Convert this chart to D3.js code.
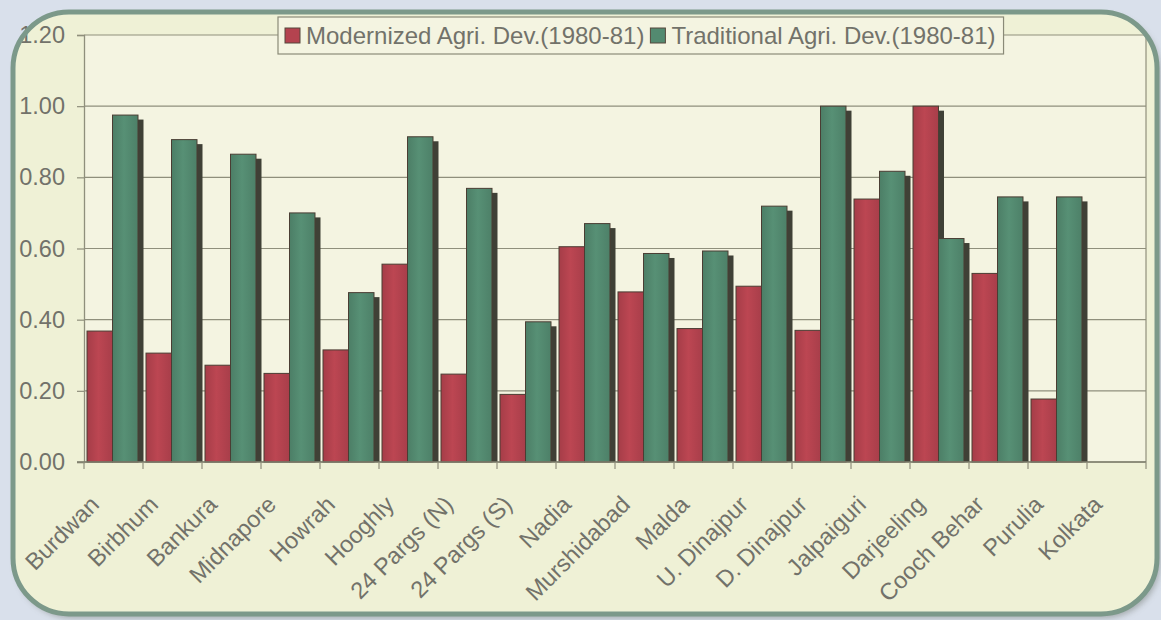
<!DOCTYPE html>
<html>
<head>
<meta charset="utf-8">
<script src="https://cdn.jsdelivr.net/npm/d3@7"></script>
<style>
  html, body { margin: 0; padding: 0; background: #d9e0eb; }
  svg { display: block; }
  text { font-family: "Liberation Sans", Arial, sans-serif; }
</style>
</head>
<body>
<svg id="chart" width="1161" height="620"></svg>
<script>
// Districts of West Bengal, agricultural development indices 1980-81
const categories = ["Burdwan", "Birbhum", "Bankura", "Midnapore", "Howrah", "Hooghly",
  "24 Pargs (N)", "24 Pargs (S)", "Nadia", "Murshidabad", "Malda", "U. Dinajpur",
  "D. Dinajpur", "Jalpaiguri", "Darjeeling", "Cooch Behar", "Purulia", "Kolkata"];
const modernized = [0.368, 0.306, 0.272, 0.249, 0.315, 0.556, 0.247, 0.19, 0.605, 0.478,
  0.375, 0.494, 0.37, 0.739, 1.0, 0.53, 0.177, null];
const traditional = [0.975, 0.906, 0.865, 0.70, 0.476, 0.914, 0.769, 0.394, 0.67, 0.586,
  0.593, 0.719, 1.0, 0.817, 0.628, 0.745, 0.745, null];
const seriesNames = ["Modernized Agri. Dev.(1980-81)", "Traditional Agri. Dev.(1980-81)"];
const yTicks = [0, 0.2, 0.4, 0.6, 0.8, 1.0, 1.2];

const svg = d3.select("#chart");
const plot = { left: 84, right: 1146, top: 35, bottom: 462 };
const textColor = "#72726a";
const gridColor = "#8f8f7c";
const barColors = ["#b4434f", "#538a70"];
const fontFamily = "'Liberation Sans', Arial, sans-serif";

const defs = svg.append("defs");
const panelShadow = defs.append("filter").attr("id", "panelShadow")
  .attr("x", "-5%").attr("y", "-5%").attr("width", "110%").attr("height", "110%");
panelShadow.append("feGaussianBlur").attr("stdDeviation", 3);

barColors.forEach((c, i) => {
  const g = defs.append("linearGradient").attr("id", "barGrad" + i)
    .attr("x1", "0").attr("x2", "1").attr("y1", "0").attr("y2", "0");
  const base = d3.color(c);
  g.append("stop").attr("offset", "0%").attr("stop-color", base.darker(0.25));
  g.append("stop").attr("offset", "45%").attr("stop-color", base.brighter(0.12));
  g.append("stop").attr("offset", "100%").attr("stop-color", base.darker(0.2));
});

// Panel with rounded frame
const panel = { x: 13, y: 12, w: 1144, h: 602, r: 56 };
svg.append("rect")
  .attr("x", panel.x + 3).attr("y", panel.y + 4).attr("width", panel.w).attr("height", panel.h)
  .attr("rx", panel.r).attr("fill", "#8a918f").attr("opacity", 0.7)
  .attr("filter", "url(#panelShadow)");
svg.append("rect")
  .attr("x", panel.x).attr("y", panel.y).attr("width", panel.w).attr("height", panel.h)
  .attr("rx", panel.r).attr("fill", "#eff1d6");

// Plot background
svg.append("rect")
  .attr("x", plot.left).attr("y", plot.top)
  .attr("width", plot.right - plot.left).attr("height", plot.bottom - plot.top)
  .attr("fill", "#f4f4e1");

const x = d3.scaleBand().domain(categories).range([plot.left, plot.right]).padding(0);
const xSub = d3.scaleBand().domain([0, 1]).range([3, 54]).padding(0);
const y = d3.scaleLinear().domain([0, 1.2]).range([plot.bottom, plot.top]);

// Horizontal gridlines
svg.append("g").selectAll("line").data(yTicks).join("line")
  .attr("x1", plot.left).attr("x2", plot.right)
  .attr("y1", d => y(d)).attr("y2", d => y(d))
  .attr("stroke", gridColor).attr("stroke-width", 1.2);

// Right plot edge
svg.append("line")
  .attr("x1", plot.right).attr("x2", plot.right)
  .attr("y1", plot.top).attr("y2", plot.bottom)
  .attr("stroke", gridColor).attr("stroke-width", 1.2);

// Y axis
const yAxis = svg.append("g").attr("transform", `translate(${plot.left},0)`)
  .call(d3.axisLeft(y).tickValues(yTicks).tickFormat(d3.format(".2f")).tickSize(7).tickPadding(12));
yAxis.select(".domain").attr("stroke", gridColor).attr("stroke-width", 1.3);
yAxis.selectAll(".tick line").attr("stroke", gridColor).attr("stroke-width", 1.2);
yAxis.selectAll(".tick text").attr("fill", textColor).attr("font-size", 23.5)
  .style("font-family", fontFamily);

// Bars
const barData = [];
categories.forEach((c, i) => {
  [modernized[i], traditional[i]].forEach((v, s) => {
    if (v != null) barData.push({ cat: c, s, v });
  });
});
const bw = xSub.bandwidth();
const shadowDx = 5.5, shadowDy = 4.5;

svg.append("g").selectAll("rect").data(barData).join("rect")
  .attr("x", d => x(d.cat) + xSub(d.s) + shadowDx)
  .attr("y", d => y(d.v) + shadowDy)
  .attr("width", bw)
  .attr("height", d => plot.bottom - y(d.v) - shadowDy)
  .attr("fill", "#3f4036");

const barsG = svg.append("g");
[0, 1].forEach(s => {
  barsG.append("g").selectAll("rect").data(barData.filter(d => d.s === s)).join("rect")
    .attr("x", d => x(d.cat) + xSub(d.s))
    .attr("y", d => y(d.v))
    .attr("width", bw)
    .attr("height", d => plot.bottom - y(d.v))
    .attr("fill", `url(#barGrad${s})`)
    .attr("stroke", "#4a3d33").attr("stroke-width", 1);
});

// X axis baseline, category boundary ticks, rotated labels
svg.append("line")
  .attr("x1", plot.left - 7).attr("x2", plot.right)
  .attr("y1", plot.bottom).attr("y2", plot.bottom)
  .attr("stroke", "#7e7e6c").attr("stroke-width", 1.4);
const bounds = categories.map(c => x(c)).concat([plot.right]);
svg.append("g").selectAll("line").data(bounds).join("line")
  .attr("x1", d => d).attr("x2", d => d)
  .attr("y1", plot.bottom).attr("y2", plot.bottom + 7)
  .attr("stroke", gridColor).attr("stroke-width", 1.2);

const xAxis = svg.append("g").attr("transform", `translate(0,${plot.bottom})`)
  .call(d3.axisBottom(x).tickSize(0).tickPadding(0));
xAxis.select(".domain").remove();
xAxis.selectAll(".tick text")
  .attr("fill", textColor).attr("font-size", 23.5)
  .style("font-family", fontFamily)
  .attr("text-anchor", "end")
  .attr("dy", 0).attr("y", 0)
  .attr("transform", "translate(-13,44) rotate(-45)");

// Legend
const legend = svg.append("g");
const legBox = legend.append("rect")
  .attr("y", 17).attr("height", 37)
  .attr("fill", "#f4f4e1").attr("stroke", "#8a8a78").attr("stroke-width", 1.2);
let lx = 285;
seriesNames.forEach((name, i) => {
  legend.append("rect")
    .attr("x", lx).attr("y", 28).attr("width", 15).attr("height", 15)
    .attr("fill", barColors[i]).attr("stroke", "#55473c").attr("stroke-width", 1);
  const t = legend.append("text")
    .attr("x", lx + 21).attr("y", 43.5)
    .attr("fill", textColor).attr("font-size", 24)
    .text(name);
  lx += 21 + t.node().getComputedTextLength() + 6;
});
legBox.attr("x", 278).attr("width", lx - 278 + 2);

// Frame drawn last
svg.append("rect")
  .attr("x", panel.x).attr("y", panel.y).attr("width", panel.w).attr("height", panel.h)
  .attr("rx", panel.r).attr("fill", "none")
  .attr("stroke", "#7c998a").attr("stroke-width", 5);
</script>
</body>
</html>
